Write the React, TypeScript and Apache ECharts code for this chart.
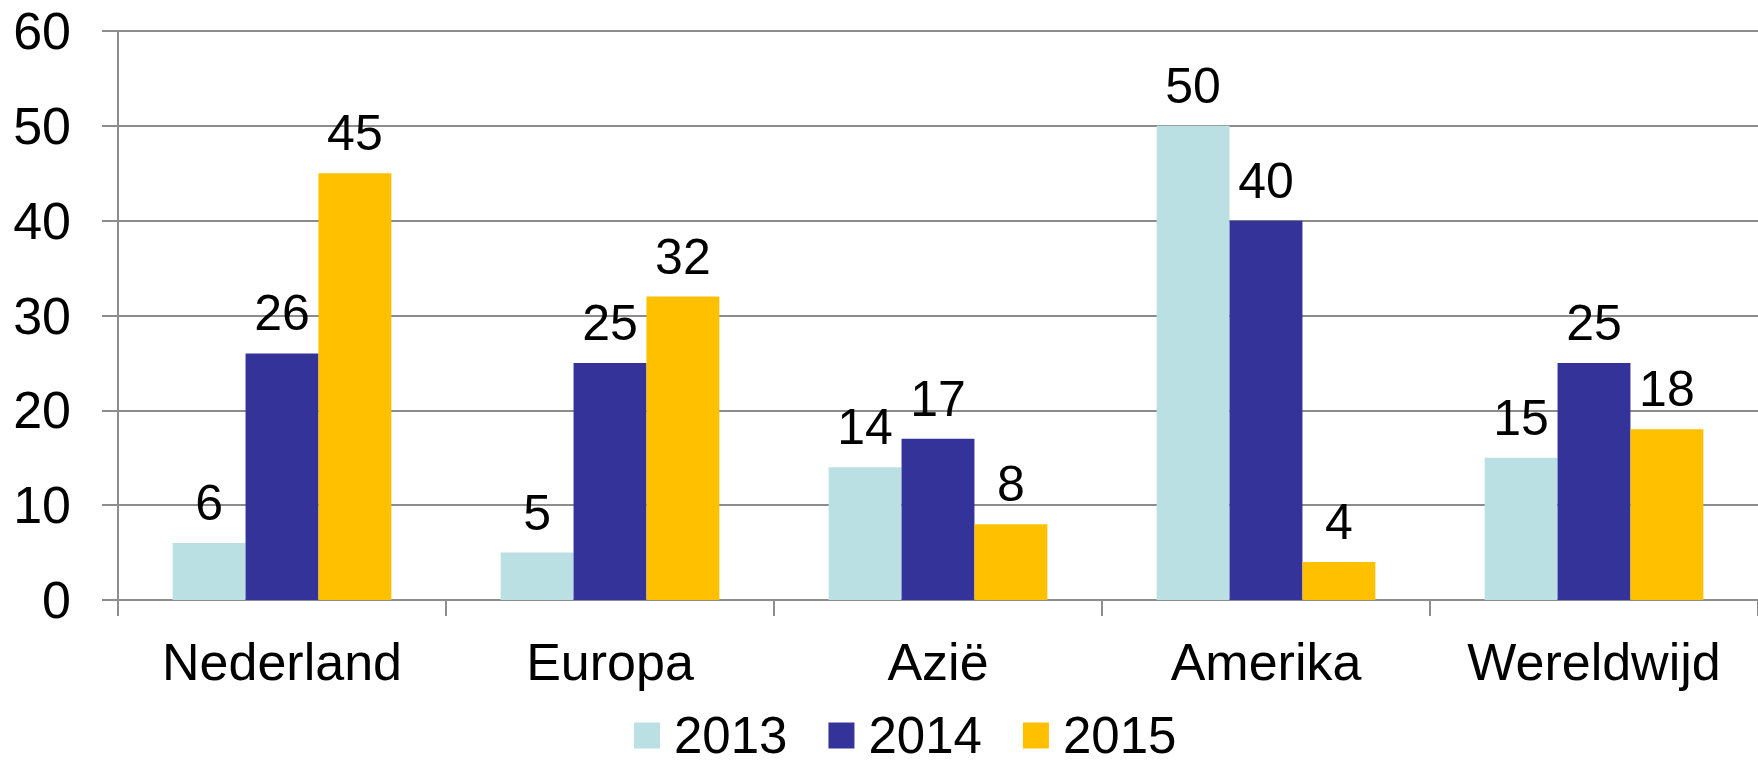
import React, { useEffect, useRef } from "react";
import * as echarts from "echarts";

const categories = ["Nederland", "Europa", "Azië", "Amerika", "Wereldwijd"];
const seriesNames = ["2013", "2014", "2015"];
const values2013 = [6, 5, 14, 50, 15];
const values2014 = [26, 25, 17, 40, 25];
const values2015 = [45, 32, 8, 4, 18];
const colors = ["#BBE0E3", "#333399", "#FFC000"];

const FONT = "'Liberation Sans', Arial, sans-serif";
const GRAY = "#8c8c8c";

export default function App() {
  const ref = useRef<HTMLDivElement>(null);
  useEffect(() => {
    document.body.style.margin = "0";
    if (!ref.current) return;
    const chart = echarts.init(ref.current, undefined, { renderer: "svg" });
    const data = [values2013, values2014, values2015];
    chart.setOption({
      animation: false,
      textStyle: { fontFamily: FONT },
      grid: { left: 118, right: 0, top: 31, bottom: 166 },
      legend: {
        left: 634,
        top: 710,
        padding: 0,
        itemWidth: 26,
        itemHeight: 26,
        itemGap: 41,
        icon: "rect",
        textStyle: { fontSize: 51, lineHeight: 50, color: "#000", fontFamily: FONT, padding: [0, 0, 0, 9] },
        data: seriesNames,
      },
      xAxis: {
        type: "category",
        data: categories,
        axisLine: { show: true, lineStyle: { color: GRAY, width: 2 } },
        axisTick: { show: true, length: 16, lineStyle: { color: GRAY, width: 2 } },
        axisLabel: { interval: 0, fontSize: 52, color: "#000", margin: 36, fontFamily: FONT },
        splitLine: { show: false },
      },
      yAxis: {
        type: "value",
        min: 0,
        max: 60,
        interval: 10,
        axisLine: { show: true, lineStyle: { color: GRAY, width: 2 } },
        axisTick: { show: true, length: 16, lineStyle: { color: GRAY, width: 2 } },
        axisLabel: { fontSize: 52, color: "#000", margin: 47, fontFamily: FONT },
        splitLine: { show: true, lineStyle: { color: GRAY, width: 2 } },
      },
      series: seriesNames.map((name, i) => ({
        name,
        type: "bar",
        data: data[i],
        barGap: "0%",
        barCategoryGap: "33.33%",
        itemStyle: { color: colors[i] },
        label: {
          show: true,
          position: "top",
          distance: 15,
          fontSize: 50,
          color: "#000",
          fontFamily: FONT,
        },
      })),
    });
    return () => chart.dispose();
  }, []);
  return <div ref={ref} style={{ width: 1758, height: 766 }} />;
}
